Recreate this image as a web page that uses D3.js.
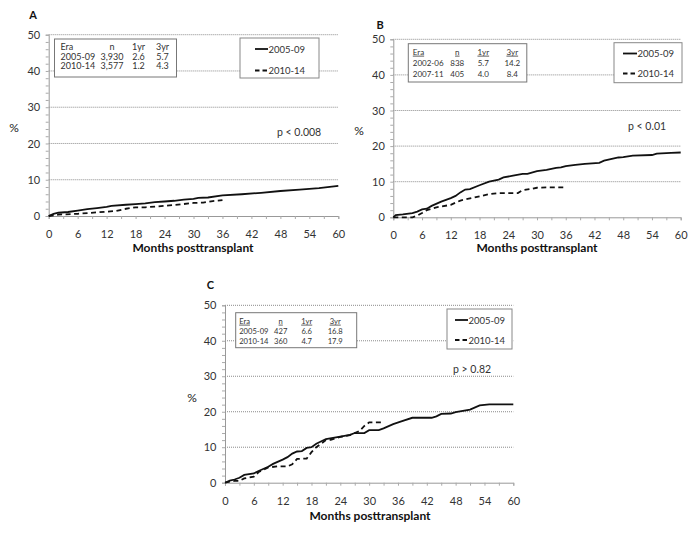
<!DOCTYPE html>
<html>
<head>
<meta charset="utf-8">
<script src="https://cdn.jsdelivr.net/npm/d3@7"></script>
<style>
  body { margin: 0; background: #fff; }
  svg { display: block; font-family: Lato, "Open Sans", sans-serif; }
</style>
</head>
<body>
<svg id="chart" width="700" height="533"></svg>
<script>
// ---------- DATA ----------
const seriesNames = ["2005-09", "2010-14"];
const xTicks = [0, 6, 12, 18, 24, 30, 36, 42, 48, 54, 60];
const yTicks = [0, 10, 20, 30, 40, 50];

// Panel A
const aEarly = [[0,0],[1,0.6],[2,0.9],[4,1.1],[6,1.5],[8,1.9],[10,2.2],[12,2.5],[13,2.8],[16,3.1],[18,3.3],[20,3.5],[22,3.8],[24,4.0],[26,4.2],[28,4.5],[30,4.7],[31,5.0],[33,5.1],[36,5.7],[40,6.0],[44,6.4],[48,6.9],[52,7.3],[56,7.7],[60,8.3]];
const aLate = [[0,0],[2,0.4],[6,0.6],[10,1.0],[12,1.2],[14,1.4],[16,2.0],[18,2.4],[20,2.4],[24,2.8],[28,3.3],[30,3.6],[32,3.7],[34,4.1],[36,4.4]];
const aTable = [["Era","n","1yr","3yr"],["2005-09","3,930","2.6","5.7"],["2010-14","3,577","1.2","4.3"]];
const aP = "p < 0.008";

// Panel B
const bEarly = [[0,0],[0.5,0.6],[2,0.8],[4,1.2],[5,1.6],[6,2.2],[7,2.4],[8,3.2],[10,4.4],[12,5.4],[13,6.0],[14,7.0],[15,7.8],[16,7.9],[18,9.0],[20,10.0],[22,10.6],[23,11.2],[25,11.7],[27,12.2],[28,12.2],[30,13.0],[32,13.3],[34,13.9],[35,14.0],[36,14.4],[38,14.7],[40,15.0],[43,15.3],[44,15.9],[47,16.8],[48,16.9],[50,17.3],[54,17.5],[55,17.9],[58,18.1],[60,18.2]];
const bLate = [[0,0],[4,0],[5,0.5],[6,1.2],[7,2.0],[9,2.8],[12,3.5],[14,4.7],[16,5.3],[18,5.9],[20,6.5],[22,6.8],[26,6.8],[27,7.6],[29,8.0],[30,8.3],[32,8.4],[36,8.4]];
const bTable = [["Era","n","1yr","3yr"],["2002-06","838","5.7","14.2"],["2007-11","405","4.0","8.4"]];
const bP = "p < 0.01";

// Panel C
const cEarly = [[0,0],[1,0.6],[2,0.9],[3,1.4],[4,2.2],[6,2.6],[7,3.3],[9,4.5],[10,5.3],[12,6.5],[13,7.2],[14,8.2],[15,8.8],[16,8.9],[17,9.8],[18,10.0],[19,11.0],[21,12.3],[24,13.0],[26,13.5],[27,14.0],[29,14.0],[30,14.8],[32,14.8],[33,15.3],[35,16.5],[37,17.4],[39,18.3],[43,18.3],[44,18.7],[45,19.4],[47,19.5],[48,19.9],[51,20.6],[53,21.8],[55,22.1],[60,22.1]];
const cLate = [[0,0],[1,0.3],[2,0.5],[3,0.5],[4,1.2],[6,1.7],[7,3.0],[9,4.3],[11,4.6],[13,4.6],[14,5.2],[15,6.7],[17,6.8],[18,8.6],[19,10.0],[20,11.0],[21,12.0],[22,12.1],[24,12.9],[26,13.4],[28,14.6],[29,16.0],[30,17.0],[33,17.0]];
const cTable = [["Era","n","1yr","3yr"],["2005-09","427","6.6","16.8"],["2010-14","360","4.7","17.9"]];
const cP = "p > 0.82";

// ---------- LAYOUT ----------
const panels = [
  { label: "A", early: aEarly, late: aLate, table: aTable, p: aP, underline: false,
    x0: 48.7, x1: 338.3, y0: 216, y1: 34.7, titleX: 33, titleY: 19, pctX: 14, pctY: 132,
    xLabY: 234, axTitleY: 252, axTitleX: 193,
    tbl: { x: 54.5, y: 39, w: 122, h: 38, fs: 9, cols: [6, 57.5, 84, 108], rows: [46.5, 56.5, 66] },
    leg: { x: 240, y: 38, w: 79, h: 40, rows: [49, 70.5], lx: 255, lw: 13 },
    pX: 277, pY: 136 },
  { label: "B", early: bEarly, late: bLate, table: bTable, p: bP, underline: true,
    x0: 393.3, x1: 680.7, y0: 217.3, y1: 39.3, titleX: 380, titleY: 29, pctX: 359, pctY: 135,
    xLabY: 235, axTitleY: 252, axTitleX: 537,
    tbl: { x: 408.3, y: 43.7, w: 118.5, h: 38.3, fs: 8, cols: [4.5, 49, 75, 104], rows: [51.5, 62.5, 74] },
    leg: { x: 614, y: 42.7, w: 68, h: 40, rows: [53.5, 73.5], lx: 623, lw: 14 },
    pX: 628, pY: 130 },
  { label: "C", early: cEarly, late: cLate, table: cTable, p: cP, underline: true,
    x0: 225, x1: 513.3, y0: 482.7, y1: 305.3, titleX: 210.5, titleY: 289, pctX: 192, pctY: 402,
    xLabY: 501, axTitleY: 520, axTitleX: 370,
    tbl: { x: 235.7, y: 312.7, w: 121, h: 35, fs: 7.6, cols: [3.5, 45, 71, 99.5], rows: [320.5, 330.5, 340.5] },
    leg: { x: 447, y: 309, w: 65, h: 40, rows: [320, 340], lx: 455, lw: 13 },
    pX: 453, pY: 373 }
];

const svg = d3.select("#chart");

panels.forEach(P => {
  const g = svg.append("g");
  const x = d3.scaleLinear().domain([0, 60]).range([P.x0, P.x1]);
  const y = d3.scaleLinear().domain([0, 50]).range([P.y0, P.y1]);

  // gridlines
  g.selectAll("line.grid").data(yTicks.filter(d => d > 0)).join("line")
    .attr("x1", x(0)).attr("x2", x(60))
    .attr("y1", d => y(d)).attr("y2", d => y(d))
    .attr("stroke", "#8a8a8a").attr("stroke-width", 1)
    .attr("stroke-dasharray", "1,1");

  // y axis with minor ticks
  const yMinor = d3.axisLeft(y).tickValues(d3.range(0, 51, 2)).tickSize(3).tickFormat("");
  const ya = g.append("g").attr("transform", `translate(${x(0)},0)`).call(yMinor);
  ya.select(".domain").attr("stroke", "#999");
  ya.selectAll(".tick line").attr("stroke", "#aaa");
  const yMajor = d3.axisLeft(y).tickValues(yTicks).tickSize(0).tickPadding(8.5);
  const yb = g.append("g").attr("transform", `translate(${x(0)},0)`).call(yMajor);
  yb.select(".domain").remove();
  yb.selectAll("text").attr("font-size", 11).attr("fill", "#333").attr("font-family", "Lato, sans-serif");

  // x axis
  const xMinor = d3.axisBottom(x).tickValues(d3.range(0, 61, 3)).tickSize(3).tickFormat("");
  const xa = g.append("g").attr("transform", `translate(0,${y(0)})`).call(xMinor);
  xa.select(".domain").attr("stroke", "#999");
  xa.selectAll(".tick line").attr("stroke", "#aaa");
  const xMajor = d3.axisBottom(x).tickValues(xTicks).tickSize(0).tickPadding(P.xLabY - y(0) - 4);
  const xb = g.append("g").attr("transform", `translate(0,${y(0)})`).call(xMajor);
  xb.select(".domain").remove();
  xb.selectAll("text").attr("font-size", 11).attr("fill", "#333").attr("font-family", "Lato, sans-serif");

  // lines
  const line = d3.line().x(d => x(d[0])).y(d => y(d[1]));
  g.append("path").datum(P.early).attr("d", line)
    .attr("fill", "none").attr("stroke", "#111").attr("stroke-width", 1.8);
  g.append("path").datum(P.late).attr("d", line)
    .attr("fill", "none").attr("stroke", "#111").attr("stroke-width", 1.8)
    .attr("stroke-dasharray", "5,3.5");

  // titles
  g.append("text").attr("x", P.titleX).attr("y", P.titleY).attr("text-anchor", "middle")
    .attr("font-weight", "bold").attr("font-size", 11).attr("fill", "#111").text(P.label);
  g.append("text").attr("x", P.pctX).attr("y", P.pctY).attr("text-anchor", "middle")
    .attr("font-size", 12).attr("fill", "#222").text("%");
  g.append("text").attr("x", P.axTitleX).attr("y", P.axTitleY).attr("text-anchor", "middle")
    .attr("font-weight", "bold").attr("font-size", 12).attr("fill", "#111").text("Months posttransplant");
  g.append("text").attr("x", P.pX).attr("y", P.pY)
    .attr("font-size", 10.5).attr("fill", "#333").text(P.p);

  // table box
  const T = P.tbl;
  g.append("rect").attr("x", T.x).attr("y", T.y).attr("width", T.w).attr("height", T.h)
    .attr("fill", "#fff").attr("stroke", "#777").attr("stroke-width", 1);
  P.table.forEach((row, ri) => {
    row.forEach((cell, ci) => {
      const anchor = ci === 0 ? "start" : "middle";
      const t = g.append("text").attr("x", T.x + T.cols[ci]).attr("y", T.rows[ri] + 3.2)
        .attr("text-anchor", anchor).attr("font-size", T.fs)
        .attr("fill", "#333").text(cell);
      if (ri === 0 && P.underline) t.attr("text-decoration", "underline");
    });
  });

  // legend box
  const L = P.leg;
  g.append("rect").attr("x", L.x).attr("y", L.y).attr("width", L.w).attr("height", L.h)
    .attr("fill", "#fff").attr("stroke", "#888").attr("stroke-width", 1);
  seriesNames.forEach((name, i) => {
    g.append("line").attr("x1", L.lx).attr("x2", L.lx + L.lw)
      .attr("y1", L.rows[i]).attr("y2", L.rows[i])
      .attr("stroke", "#111").attr("stroke-width", 1.8)
      .attr("stroke-dasharray", i === 1 ? "4.5,3" : null);
    g.append("text").attr("x", L.lx + L.lw + 0.5).attr("y", L.rows[i] + 3.5)
      .attr("font-size", 9.5).attr("fill", "#333").text(name);
  });
});
</script>
</body>
</html>
